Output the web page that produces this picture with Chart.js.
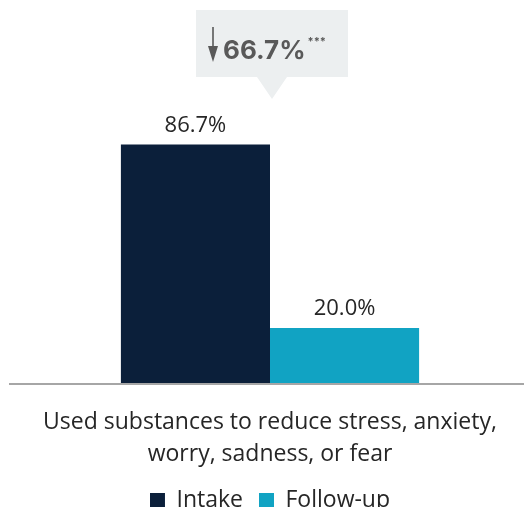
<!DOCTYPE html>
<html>
<head>
<meta charset="utf-8">
<script src="https://cdn.jsdelivr.net/npm/chart.js@4/dist/chart.umd.min.js"></script>
<style>
  html, body { margin: 0; padding: 0; background: #fff; overflow: hidden; }
  #wrap { position: relative; width: 524px; height: 522px; }
</style>
</head>
<body>
<div id="wrap"><canvas id="chart"></canvas></div>
<script>

const categories  = [['Used substances to reduce stress, anxiety,', 'worry, sadness, or fear']];
const seriesNames = ['Intake', 'Follow-up'];
const intake      = [86.7];
const followUp    = [20.0];
const changeNote  = '***';

const NAVY = '#0b1f3a';
const TEAL = '#11a3c3';
const FONT = "'Open Sans', 'Noto Sans', sans-serif";


// value labels above each bar
const barLabels = {
    id: 'barLabels',
    afterDatasetsDraw( chart ) {
        const ctx = chart.ctx;
        ctx.save();
        ctx.font = `22px ${FONT}`;
        ctx.fillStyle = '#262626';
        ctx.textAlign = 'center';
        ctx.textBaseline = 'bottom';
        chart.data.datasets.forEach( ( ds, i ) => {
            chart.getDatasetMeta( i ).data.forEach( ( bar, j ) => {
                ctx.fillText( ds.data[j].toFixed( 1 ) + '%', bar.x, bar.y - 8 );
            } );
        } );
        ctx.restore();
    }
};


// baseline + change callout
const callout = {
    id: 'callout',
    afterDraw( chart ) {
        const ctx  = chart.ctx;
        const area = chart.chartArea;
        const x    = chart.scales.x.getPixelForValue( 0 ) + 2;

        ctx.save();

        ctx.strokeStyle = '#a6a6a6';
        ctx.lineWidth = 2;
        ctx.beginPath();
        ctx.moveTo( area.left - 7, area.bottom + 1 );
        ctx.lineTo( chart.width, area.bottom + 1 );
        ctx.stroke();

        const left = x - 76, right = x + 76, top = 10, bottom = 77;
        ctx.fillStyle = '#eceff0';
        ctx.beginPath();
        ctx.moveTo( left, top );
        ctx.lineTo( right, top );
        ctx.lineTo( right, bottom );
        ctx.lineTo( x + 15, bottom );
        ctx.lineTo( x, 99 );
        ctx.lineTo( x - 15, bottom );
        ctx.lineTo( left, bottom );
        ctx.closePath();
        ctx.fill();

        // arrow
        const ax = left + 17;
        ctx.strokeStyle = '#595959';
        ctx.fillStyle = '#595959';
        ctx.lineWidth = 1.6;
        ctx.beginPath();
        ctx.moveTo( ax, 27 );
        ctx.lineTo( ax, 55 );
        ctx.stroke();
        ctx.beginPath();
        ctx.moveTo( ax - 5, 46 );
        ctx.lineTo( ax + 5, 46 );
        ctx.lineTo( ax, 62 );
        ctx.closePath();
        ctx.fill();

        const change = ( intake[0] - followUp[0] ).toFixed( 1 ) + '%';
        ctx.font = `bold 26px Inter, ${FONT}`;
        ctx.textAlign = 'left';
        ctx.textBaseline = 'alphabetic';
        ctx.fillText( change, left + 27, 59 );
        const w = ctx.measureText( change ).width;
        ctx.font = `bold 11px Inter, ${FONT}`;
        ctx.fillText( changeNote, left + 29 + w, 45 );

        ctx.restore();
    }
};


new Chart( document.getElementById( 'chart' ), {
    type: 'bar',
    data: {
        labels: categories,
        datasets: [
            { label: seriesNames[0], data: intake,   backgroundColor: NAVY },
            { label: seriesNames[1], data: followUp, backgroundColor: TEAL }
        ]
    },
    options: {
        responsive: true,
        maintainAspectRatio: false,
        animation: false,
        layout: { padding: { top: 108, left: 16, right: 0, bottom: 0 } },
        datasets: { bar: { barPercentage: 1, categoryPercentage: 0.587 } },
        scales: {
            x: {
                grid: { display: false },
                border: { display: false },
                ticks: { color: '#262626', font: { family: FONT, size: 23, lineHeight: 1.39 }, padding: 15 },
                afterFit( scale ) { scale.height -= 12; }
            },
            y: { display: false, min: 0, max: 100 }
        },
        plugins: {
            legend: {
                position: 'bottom',
                labels: {
                    color: '#262626',
                    font: { family: FONT, size: 23 },
                    boxWidth: 15,
                    boxHeight: 15,
                    padding: 16
                }
            },
            tooltip: { enabled: false }
        }
    },
    plugins: [ barLabels, callout ]
} );
</script>
</body>
</html>
